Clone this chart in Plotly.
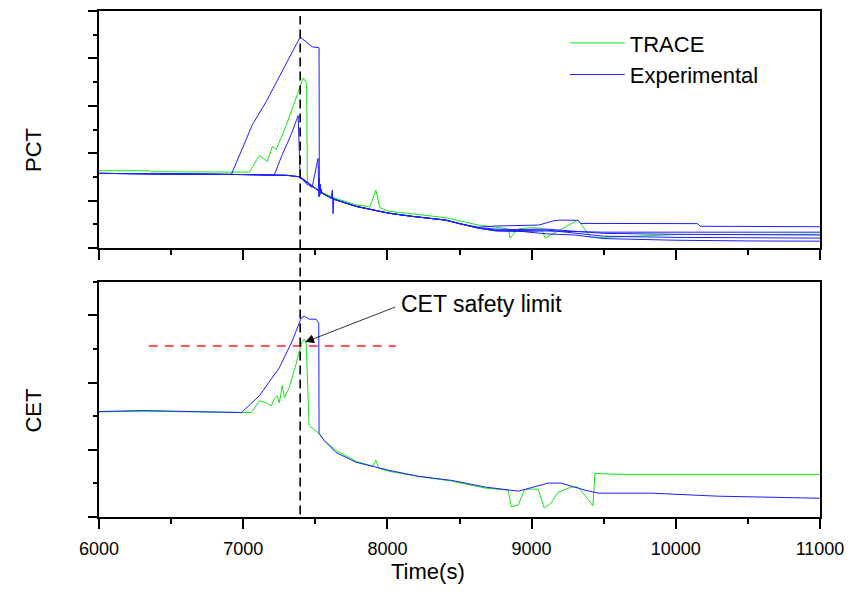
import plotly.graph_objects as go

# ---------------- PCT (top panel) ----------------
pct_exp1_t = [6000, 6500, 6918, 6994, 7064, 7160, 7271, 7388, 7402, 7478, 7526, 7528, 7547, 7630, 7782, 8010,
              8168, 8403, 8514, 8631, 8750, 8900, 9050, 9150, 9200, 9320, 9340, 10150, 10170, 11000]
pct_exp1_v = [3.15, 3.14, 3.11, 4.20, 5.21, 6.18, 7.44, 8.82, 8.87, 8.49, 8.45, 2.60, 2.31, 2.06, 1.76, 1.47,
              1.34, 1.18, 1.01, 0.88, 0.93, 0.95, 0.97, 1.15, 1.18, 1.17, 1.04, 1.03, 0.92, 0.90]

pct_exp2_t = [6000, 6500, 7000, 7215, 7271, 7333, 7381, 7395, 7400, 7547, 7630, 7782, 8010, 8168, 8403, 8514,
              8631, 8750, 8900, 9100, 9300, 9500, 10000, 10500, 11000]
pct_exp2_v = [3.15, 3.14, 3.10, 3.07, 3.95, 4.79, 5.59, 2.98, 2.94, 2.31, 2.06, 1.76, 1.47, 1.34, 1.18, 1.01,
              0.84, 0.72, 0.70, 0.72, 0.68, 0.67, 0.67, 0.67, 0.67]

pct_exp3_t = [6000, 6500, 7000, 7300, 7395, 7547, 7630, 7782, 8010, 8168, 8403, 8514, 8631, 8750, 8900, 9100,
              9300, 9500, 10000, 10500, 11000]
pct_exp3_v = [3.15, 3.14, 3.10, 3.07, 3.01, 2.31, 2.06, 1.76, 1.47, 1.34, 1.18, 1.01, 0.84, 0.76, 0.74, 0.76,
              0.62, 0.50, 0.45, 0.42, 0.42]

pct_exp4_t = [6000, 6500, 7000, 7300, 7395, 7440, 7478, 7519, 7521, 7523, 7525, 7527, 7529, 7531, 7533, 7535,
              7537, 7540, 7547, 7630, 7782, 8010, 8168, 8403, 8514, 8631, 8750, 8900, 9100, 9300, 9500, 10000,
              10500, 11000]
pct_exp4_v = [3.15, 3.14, 3.10, 3.07, 3.00, 2.70, 2.56, 3.78, 2.20, 3.10, 2.15, 2.95, 2.20, 2.80, 2.25, 2.70,
              2.30, 2.50, 2.31, 2.06, 1.76, 1.47, 1.34, 1.18, 1.01, 0.84, 0.74, 0.72, 0.60, 0.55, 0.40, 0.33,
              0.30, 0.29]

pct_exp5_t = [6000, 6500, 7000, 7300, 7395, 7547, 7610, 7618, 7623, 7628, 7640, 7782, 8010, 8168, 8403, 8514,
              8631, 8750, 8900, 9100, 9300, 9500, 10000, 10500, 11000]
pct_exp5_v = [3.15, 3.14, 3.10, 3.07, 3.00, 2.31, 2.10, 2.45, 1.45, 2.08, 2.03, 1.76, 1.47, 1.34, 1.18, 1.01,
              0.86, 0.80, 0.78, 0.80, 0.70, 0.62, 0.58, 0.55, 0.55]

pct_trace_t = [6000, 6350, 6360, 7043, 7112, 7167, 7202, 7229, 7300, 7416, 7440, 7445, 7470, 7547, 7630, 7782,
               7878, 7920, 7948, 8010, 8168, 8403, 8514, 8631, 8780, 8838, 8852, 8900, 8980, 9066, 9094, 9184,
               9322, 9411, 9500, 10000, 10500, 11000]
pct_trace_v = [3.26, 3.26, 3.22, 3.20, 3.91, 3.66, 4.29, 4.16, 5.20, 7.18, 6.95, 2.80, 2.62, 2.35, 2.12, 1.82,
               1.74, 2.44, 1.70, 1.55, 1.45, 1.28, 1.13, 0.97, 0.86, 0.80, 0.42, 0.80, 0.86, 0.84, 0.42, 0.71,
               1.18, 0.46, 0.45, 0.57, 0.59, 0.58]

# ---------------- CET (bottom panel) ----------------
cet_exp_t = [6000, 6300, 6988, 7112, 7250, 7340, 7402, 7423, 7457, 7506, 7524, 7526, 7561, 7644, 7782, 8010,
             8217, 8445, 8680, 8908, 9115, 9204, 9370, 9460, 9826, 10290, 10980, 11000]
cet_exp_v = [3.14, 3.17, 3.11, 3.61, 4.44, 5.24, 5.92, 5.98, 5.89, 5.89, 5.77, 2.49, 2.28, 1.92, 1.63, 1.39,
             1.21, 1.09, 0.89, 0.77, 1.01, 1.01, 0.80, 0.71, 0.71, 0.62, 0.56, 0.56]

cet_trace_t = [6000, 6300, 7057, 7112, 7160, 7195, 7215, 7236, 7250, 7271, 7285, 7319, 7367, 7402, 7423, 7436,
               7443, 7457, 7526, 7561, 7644, 7782, 7900, 7920, 7940, 8010, 8217, 8445, 8680, 8825, 8838, 8859,
               8908, 8949, 8977, 9046, 9087, 9135, 9184, 9274, 9322, 9370, 9425, 9439, 9598, 10000, 10500, 11000]
cet_trace_v = [3.13, 3.15, 3.11, 3.46, 3.40, 3.31, 3.52, 3.61, 3.40, 3.91, 3.55, 3.85, 4.56, 5.15, 5.30, 5.18,
               4.44, 2.72, 2.49, 2.28, 1.98, 1.66, 1.51, 1.69, 1.45, 1.36, 1.21, 1.07, 0.86, 0.80, 0.80, 0.30,
               0.36, 0.80, 0.83, 0.83, 0.27, 0.41, 0.74, 0.89, 0.89, 0.65, 0.33, 1.30, 1.27, 1.27, 1.27, 1.27]

# reference markers
event_time = 7395
cet_limit = 5.09
cet_limit_span = [6345, 8058]
annot_text = "CET safety limit"
annot_head = (7430, 5.21)
annot_tail = (8065, 6.27)

GREEN = "#14e614"
BLUE = "#1e1eff"
FONT = "Liberation Sans, Arial, sans-serif"

fig = go.Figure()

# TRACE (green) first, experiments (blue) drawn over
fig.add_trace(go.Scatter(x=pct_trace_t, y=pct_trace_v, mode="lines", name="TRACE",
                         line=dict(color=GREEN, width=1), xaxis="x", yaxis="y",
                         legendrank=1, showlegend=True))
fig.add_trace(go.Scatter(x=cet_trace_t, y=cet_trace_v, mode="lines", name="TRACE",
                         line=dict(color=GREEN, width=1), xaxis="x2", yaxis="y2", showlegend=False))

exp_sets = [(pct_exp1_t, pct_exp1_v), (pct_exp2_t, pct_exp2_v), (pct_exp3_t, pct_exp3_v),
            (pct_exp4_t, pct_exp4_v), (pct_exp5_t, pct_exp5_v)]
for i, (t, v) in enumerate(exp_sets):
    fig.add_trace(go.Scatter(x=t, y=v, mode="lines", name="Experimental",
                             line=dict(color=BLUE, width=1), xaxis="x", yaxis="y",
                             legendrank=2, showlegend=(i == 0)))
fig.add_trace(go.Scatter(x=cet_exp_t, y=cet_exp_v, mode="lines", name="Experimental",
                         line=dict(color=BLUE, width=1), xaxis="x2", yaxis="y2", showlegend=False))

# red dashed CET limit line
fig.add_trace(go.Scatter(x=cet_limit_span, y=[cet_limit, cet_limit], mode="lines",
                         line=dict(color="#ff2020", width=1.5, dash="9px,7px"),
                         xaxis="x2", yaxis="y2", showlegend=False, hoverinfo="skip"))

# vertical event line spanning both panels
fig.add_shape(type="line", xref="x2", yref="paper", x0=event_time, x1=event_time, y0=0.005, y1=0.99,
              line=dict(color="black", width=1.6, dash="9px,5px"))

# arrow annotation
fig.add_annotation(x=annot_head[0], y=annot_head[1], ax=annot_tail[0], ay=annot_tail[1],
                   xref="x2", yref="y2", axref="x2", ayref="y2", text="", showarrow=True,
                   arrowhead=2, arrowsize=2.2, arrowwidth=0.8, arrowcolor="black")
fig.add_annotation(x=annot_tail[0] + 15, y=annot_tail[1] + 0.06, xref="x2", yref="y2",
                   text=annot_text, showarrow=False, xanchor="left", yanchor="middle",
                   font=dict(size=23, color="black", family=FONT))

# axis titles as annotations
fig.add_annotation(x=-0.091, y=0.726, xref="paper", yref="paper", text="PCT", textangle=-90,
                   xanchor="center", yanchor="middle",
                   showarrow=False, font=dict(size=22, color="black", family=FONT))
fig.add_annotation(x=-0.091, y=0.211, xref="paper", yref="paper", text="CET", textangle=-90,
                   xanchor="center", yanchor="middle",
                   showarrow=False, font=dict(size=22, color="black", family=FONT))
fig.add_annotation(x=0.457, y=-0.108, xref="paper", yref="paper", text="Time(s)",
                   xanchor="center", yanchor="middle",
                   showarrow=False, font=dict(size=22, color="black", family=FONT))

xaxis_common = dict(range=[6000, 11000], showline=True, linecolor="black", linewidth=2, mirror=True,
                    ticks="outside", ticklen=10, tickwidth=1.5, tickcolor="black", dtick=1000, tick0=6000,
                    tickformat="d",
                    minor=dict(dtick=500, ticklen=5, tickwidth=1.5, tickcolor="black", ticks="outside"),
                    showgrid=False, zeroline=False)
yaxis_common = dict(showline=True, linecolor="black", linewidth=2, mirror=True,
                    ticks="outside", ticklen=9, tickwidth=1.5, tickcolor="black", dtick=2, tick0=0,
                    minor=dict(dtick=1, ticklen=4, tickwidth=1.5, tickcolor="black", ticks="outside"),
                    showgrid=False, zeroline=False, showticklabels=False)

fig.update_layout(
    width=853, height=593,
    margin=dict(l=99, r=30, t=9, b=76),
    paper_bgcolor="white", plot_bgcolor="white",
    font=dict(family=FONT, color="black"),
    xaxis=dict(xaxis_common, domain=[0, 1], anchor="y", showticklabels=False),
    yaxis=dict(yaxis_common, domain=[0.5315, 1.0], range=[0, 10], anchor="x"),
    xaxis2=dict(xaxis_common, domain=[0, 1], anchor="y2", showticklabels=True,
                tickfont=dict(size=18, family=FONT, color="black"), ticklabelstandoff=4),
    yaxis2=dict(yaxis_common, domain=[0, 0.4646], range=[0, 7], anchor="x2"),
    legend=dict(x=0.646, y=0.978, xanchor="left", yanchor="top", bgcolor="rgba(0,0,0,0)",
                font=dict(size=22, family=FONT, color="black"), itemwidth=55, tracegroupgap=0),
    showlegend=True,
)

fig.write_html("out.html", config={"displayModeBar": False},
               post_script="document.body.style.margin='0';document.body.style.overflow='hidden';")
